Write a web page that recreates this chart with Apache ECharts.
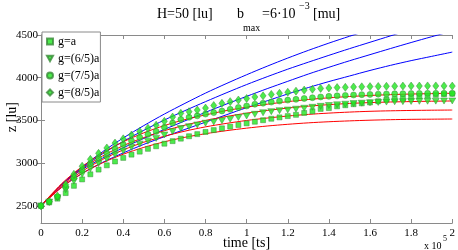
<!DOCTYPE html>
<html><head><meta charset="utf-8">
<script src="https://cdn.jsdelivr.net/npm/echarts@6/dist/echarts.min.js"></script>
<style>html,body{margin:0;padding:0;background:#fff}#c{width:458px;height:250px}</style>
</head><body><div id="c"></div>
<script>
// time in units of 1e5 ts
const lineT = [0,0.1,0.2,0.3,0.4,0.5,0.6,0.7,0.8,0.9,1.0,1.1,1.2,1.3,1.4,1.5,1.6,1.7,1.8,1.9,2.0];
const blue1 = [2500,2750,2955,3135,3295,3440,3575,3700,3820,3930,4035,4135,4230,4320,4405,4485,4560,4630,4700,4765,4830];
const blue2 = [2500,2750,2945,3110,3255,3385,3505,3615,3720,3822,3920,4012,4100,4182,4262,4340,4415,4490,4565,4635,4700];
const blue3 = [2500,2745,2925,3060,3180,3290,3395,3495,3595,3690,3782,3872,3958,4043,4122,4198,4270,4342,4412,4480,4545];
const blue4 = [2500,2720,2880,3010,3120,3220,3310,3395,3480,3565,3650,3730,3810,3885,3955,4020,4085,4145,4200,4250,4300];
const red1 = [2500,2760,2960,3120,3250,3355,3440,3510,3565,3615,3655,3690,3720,3745,3765,3780,3792,3802,3809,3814,3818];
const red2 = [2500,2745,2935,3085,3205,3300,3380,3445,3500,3545,3585,3617,3645,3667,3685,3699,3709,3716,3721,3725,3728];
const red3 = [2500,2730,2905,3045,3155,3245,3315,3375,3425,3465,3500,3528,3552,3571,3586,3598,3607,3613,3617,3620,3622];
const red4 = [2500,2715,2880,3005,3105,3185,3250,3303,3345,3380,3410,3435,3455,3472,3485,3495,3503,3509,3513,3515,3517];

const markerT = [0,0.04,0.08,0.12,0.16,0.2,0.24,0.28,0.32,0.36,0.4,0.44,0.48,0.52,0.56,0.6,0.64,0.68,0.72,0.76,0.8,0.84,0.88,0.92,0.96,1,1.04,1.08,1.12,1.16,1.2,1.24,1.28,1.32,1.36,1.4,1.44,1.48,1.52,1.56,1.6,1.64,1.68,1.72,1.76,1.8,1.84,1.88,1.92,1.96,2];
const gA  = [2500,2540,2585,2650,2735,2810,2870,2925,2975,3020,3062,3100,3135,3168,3198,3228,3258,3287,3315,3340,3365,3387,3408,3428,3447,3466,3485,3503,3520,3536,3551,3566,3588,3608,3635,3645,3665,3678,3690,3700,3710,3725,3745,3752,3760,3770,3785,3790,3800,3805,3812];
const g65 = [2500,2545,2595,2690,2790,2870,2935,2995,3050,3098,3143,3185,3223,3258,3290,3330,3370,3405,3427,3447,3467,3482,3497,3514,3535,3552,3572,3590,3603,3614,3622,3632,3643,3654,3665,3675,3683,3690,3697,3702,3707,3711,3715,3718,3720,3722,3724,3725,3726,3727,3728];
const g75 = [2500,2548,2605,2720,2830,2920,2995,3060,3118,3170,3218,3262,3302,3338,3372,3420,3470,3512,3537,3554,3575,3592,3611,3630,3652,3669,3690,3702,3715,3727,3738,3747,3757,3766,3775,3782,3788,3793,3798,3802,3805,3808,3810,3812,3813,3815,3816,3817,3817,3818,3818];
const g85 = [2500,2552,2615,2750,2870,2965,3045,3115,3178,3235,3285,3330,3372,3410,3445,3490,3540,3584,3603,3622,3645,3675,3700,3720,3739,3757,3775,3788,3805,3818,3830,3843,3855,3865,3875,3880,3885,3888,3892,3894,3896,3898,3900,3901,3902,3903,3903,3904,3904,3904,3902];

const legendNames = ['g=a','g=(6/5)a','g=(7/5)a','g=(8/5)a'];
const yTicks = [2500,3000,3500,4000,4500];

const FONT = 'Liberation Serif';
const zip = (xs, ys) => xs.map((x, i) => [x, ys[i]]);

const lineSeries = [[blue1,'#0000ff'],[blue2,'#0000ff'],[blue3,'#0000ff'],[blue4,'#0000ff'],
                    [red1,'#ff0000'],[red2,'#ff0000'],[red3,'#ff0000'],[red4,'#ff0000']].map(([d,c]) => ({
  type:'line', data: zip(lineT, d), showSymbol:false, smooth:0.3, clip:true, silent:true,
  lineStyle:{color:c, width:1}, z:2
}));
const mk = {color:'#1fe61f', borderColor:'#3a8a3a', borderWidth:0.6};
const markerDefs = [
  [gA, 'rect', 5],
  [g65, 'path://M0,0 L10,0 L5,9 Z', [7,6]],
  [g75, 'circle', 6],
  [g85, 'diamond', [6,8]]
];
const scatterSeries = markerDefs.map(([d, sym, size], i) => ({
  type:'scatter', name: legendNames[i], data: zip(markerT, d), symbol: sym, symbolSize: size,
  itemStyle: mk, z:3
}));

const axisCommon = {
  axisLine:{show:true, lineStyle:{color:'#8a8a8a', width:1}},
  axisTick:{show:true, inside:true, length:4, lineStyle:{color:'#8a8a8a'}},
  splitLine:{show:false}
};

const chart = echarts.init(document.getElementById('c'), null, {renderer:'canvas'});
chart.setOption({
  animation:false,
  backgroundColor:'#fff',
  grid:{left:41, right:3, top:35, bottom:27},
  xAxis:[
    Object.assign({type:'value', min:0, max:2, interval:0.2, position:'bottom',
      axisLabel:{fontFamily:FONT, fontSize:11, color:'#000', margin:5, formatter: v => String(v)}}, axisCommon),
    Object.assign({type:'value', min:0, max:2, interval:0.2, position:'top',
      axisLabel:{show:false}}, axisCommon)
  ],
  yAxis:[
    Object.assign({type:'value', min:2300, max:4500, position:'left',
      axisLabel:{fontFamily:FONT, fontSize:11, color:'#000', margin:3, customValues:yTicks, formatter: v => String(v)}}, axisCommon,
      {axisTick:{show:true, inside:true, length:4, lineStyle:{color:'#8a8a8a'}, customValues:yTicks}}),
    Object.assign({type:'value', min:2300, max:4500, position:'right',
      axisLabel:{show:false}}, axisCommon,
      {axisTick:{show:true, inside:true, length:4, lineStyle:{color:'#8a8a8a'}, customValues:yTicks}})
  ],
  legend:{
    data: legendNames, orient:'vertical', left:42, top:32,
    backgroundColor:'#fff', borderColor:'#8a8a8a', borderWidth:1, borderRadius:0,
    padding:[3,1,3,4], itemWidth:6, itemHeight:6, itemGap:4,
    textStyle:{fontFamily:FONT, fontSize:12, color:'#000', lineHeight:13}
  },
  graphic:[
    {type:'text', left:157, top:7, style:{text:'H=50 [lu]', font:'14px "Liberation Serif"', fill:'#000'}},
    {type:'text', left:237, top:7, style:{text:'b', font:'14px "Liberation Serif"', fill:'#000'}},
    {type:'text', left:243, top:23, style:{text:'max', font:'10px "Liberation Serif"', fill:'#000'}},
    {type:'text', left:262, top:7, style:{text:'=6·10', font:'14px "Liberation Serif"', fill:'#000'}},
    {type:'text', left:299, top:1, style:{text:'−3', font:'10px "Liberation Serif"', fill:'#000'}},
    {type:'text', left:313, top:7, style:{text:'[mu]', font:'14px "Liberation Serif"', fill:'#000'}},
    {type:'text', left:223, top:236, style:{text:'time [ts]', font:'14px "Liberation Serif"', fill:'#000'}},
    {type:'text', left:424, top:241, style:{text:'x 10', font:'10px "Liberation Serif"', fill:'#000'}},
    {type:'text', left:443, top:235, style:{text:'5', font:'8px "Liberation Serif"', fill:'#000'}},
    {type:'text', x:12, y:117, rotation:Math.PI/2,
      style:{text:'z [lu]', font:'14px "Liberation Serif"', fill:'#000', align:'center', verticalAlign:'middle'}}
  ],
  series: lineSeries.concat(scatterSeries)
});
</script>
</body></html>
